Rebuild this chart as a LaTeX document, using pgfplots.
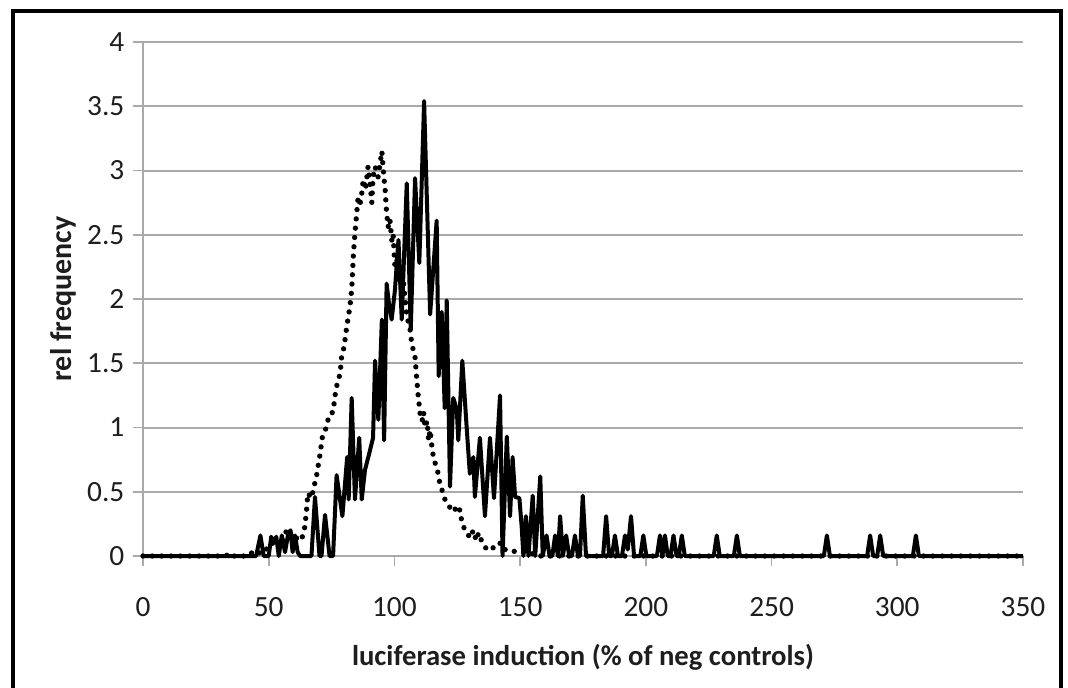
\documentclass[border=0pt]{standalone}
\usepackage{fontspec}
\setmainfont{Carlito}
\usepackage{pgfplots}
\pgfplotsset{compat=1.18}
\definecolor{gridgray}{RGB}{170,170,170}
\definecolor{txt}{RGB}{30,30,30}
\begin{document}
\begin{tikzpicture}
\useasboundingbox (-107.25pt,-98.25pt) rectangle (693.75pt,417pt);
\fill[white] (-107.25pt,-98.25pt) rectangle (693.75pt,417pt);
\begin{axis}[
  at={(0pt,0pt)}, anchor=south west,
  scale only axis, width=660pt, height=385.5pt,
  xmin=0, xmax=350, ymin=0, ymax=4,
  xtick={0,50,...,350}, ytick={0,0.5,...,4},
  axis x line*=bottom, axis y line*=left,
  axis line style={gridgray, line width=1.5pt, -},
  ymajorgrids, grid style={gridgray, line width=1.5pt},
  tick align=outside, major tick length=7.5pt,
  tick style={gridgray, line width=1.2pt},
  /pgf/number format/assume math mode=true,
  ticklabel style={font=\fontsize{22}{24}\selectfont, text=txt},
  yticklabel style={xshift=-3pt},
  xticklabel style={yshift=-20pt},
  xlabel={\textbf{luciferase induction (\% of neg controls)}},
  ylabel={\textbf{rel frequency}},
  xlabel style={font=\fontsize{21.5}{24}\selectfont, text=txt, yshift=-13.5pt},
  ylabel style={font=\fontsize{22.5}{24}\selectfont, text=txt, yshift=1pt},
  clip=false,
]
% dotted series
\addplot[black, line width=4pt, line cap=round, line join=round, dash pattern=on 0pt off 7pt] coordinates {
(0,0) (33,0) (34,0.02) (35,0) (42,0) (44,0.04) (46,0.02) (48,0.06) (50,0.05) (52,0.12) (54,0.1) (55.7,0.08) (57,0.2) (58.5,0.18) (60,0.12) (61,0.14) (63,0.12) (64.4,0.23) (65,0.35) (65.6,0.49) (67,0.45) (68,0.54) (69,0.62) (70.4,0.79) (71.5,0.95) (73,1.0) (74,1.1) (75.6,1.12) (76.4,1.25) (77,1.32) (78.4,1.42) (79,1.55) (80,1.63) (81,1.78) (82.3,1.94) (83,2.07) (83.7,2.35) (84.3,2.51) (85,2.67) (85.6,2.8) (86.2,2.72) (87,2.82) (87.6,2.93) (88.5,2.85) (89.5,3.03) (90.3,2.9) (91,2.75) (91.5,2.95) (92.3,3.03) (93.5,2.95) (95,3.15) (95.5,3.02) (96.3,2.85) (96.9,2.67) (97.5,2.56) (98.2,2.62) (99,2.45) (99.5,2.5) (100.2,2.25) (101,2.3) (101.6,2.15) (102.5,2.1) (103.5,2.15) (105,1.85) (106,1.8) (106.9,1.65) (108.2,1.55) (108.9,1.37) (109.5,1.24) (110.2,1.11) (111,1.05) (111.6,1.12) (112.2,1.0) (113,1.05) (113.6,0.9) (114.2,0.98) (114.9,0.85) (115.5,0.77) (117.3,0.65) (118,0.57) (119.3,0.49) (120.1,0.44) (121,0.41) (122,0.38) (123.4,0.40) (124.9,0.33) (126,0.36) (126.8,0.27) (128,0.2) (129,0.18) (130,0.14) (131.4,0.2) (132.5,0.12) (133.5,0.18) (135,0.1) (136.8,0.05) (138,0.07) (140,0.06) (142,0.1) (143,0.05) (145,0.05) (148.8,0.03) (154,0.03) (156,0) (350,0)
};
% solid series
\addplot[black, line width=3pt, line join=round] coordinates {
(0,0) (45,0) (46.7,0.16) (48,0) (50,0) (51,0.15) (52,0.1) (53,0.15) (54,0) (55.2,0.16) (56.5,0.03) (57.8,0.18) (58.7,0.2) (59.5,0.03) (60.5,0.16) (61.5,0.03) (62.5,0) (67,0) (68.4,0.46) (70.2,0) (71,0) (72.4,0.32) (74.2,0) (75.6,0) (77,0.63) (79.3,0.31) (81.2,0.77) (81.8,0.44) (83,1.23) (84.3,0.44) (86,0.92) (87,0.44) (88.3,0.67) (90,0.8) (91.5,0.92) (92.3,1.52) (93.6,1.06) (95,1.84) (95.9,0.9) (96.9,2.12) (97.9,1.95) (98.9,1.84) (100.2,2.07) (101.6,2.46) (102.9,1.84) (104.9,2.9) (106.5,1.76) (108.2,2.94) (109.9,2.28) (111.8,3.54) (114.2,1.88) (116.8,2.61) (117.6,1.4) (118.8,1.9) (120,1.15) (120.8,1.99) (122.1,0.54) (123.4,1.23) (124.8,1.14) (125.4,0.9) (127,1.52) (128.8,0.98) (130,0.64) (131.4,0.77) (132,0.46) (134,0.92) (136,0.31) (138,0.92) (139.6,0.45) (142,1.25) (143,0) (144.7,0.93) (146,0.31) (147,0.77) (148,0.46) (149.7,0.45) (150.6,0.23) (151.3,0) (152.3,0.31) (153.3,0) (155,0.47) (156,0) (158,0.62) (159,0) (160.5,0.16) (161.7,0) (162.8,0) (163.9,0.16) (165,0) (165.9,0.31) (167,0) (168.3,0.16) (169.5,0) (170.6,0) (171.8,0.16) (173,0) (173.8,0) (174.9,0.47) (176.2,0) (183,0) (184.2,0.31) (185.4,0) (186.5,0) (187.7,0.16) (188.9,0) (190.5,0) (191.7,0.16) (192.8,0.05) (194.1,0.31) (195.3,0) (197.8,0) (199,0.16) (200.2,0) (204.4,0) (205.6,0.16) (206.6,0) (207.6,0.16) (208.7,0) (209.8,0) (211,0.16) (212.2,0) (213.1,0) (214.3,0.16) (215.5,0) (227,0) (228.2,0.16) (229.4,0) (235,0) (236.2,0.16) (237.4,0) (270.8,0) (272,0.16) (273.2,0) (288,0) (289.2,0.16) (290.4,0) (292,0) (293.2,0.16) (294.4,0) (306.2,0) (307.4,0.16) (308.6,0) (350,0)
};
\end{axis}
\draw[black, line width=2.4pt] (-97.5pt,-110pt) rectangle (688.5pt,408.75pt);
\end{tikzpicture}
\end{document}
